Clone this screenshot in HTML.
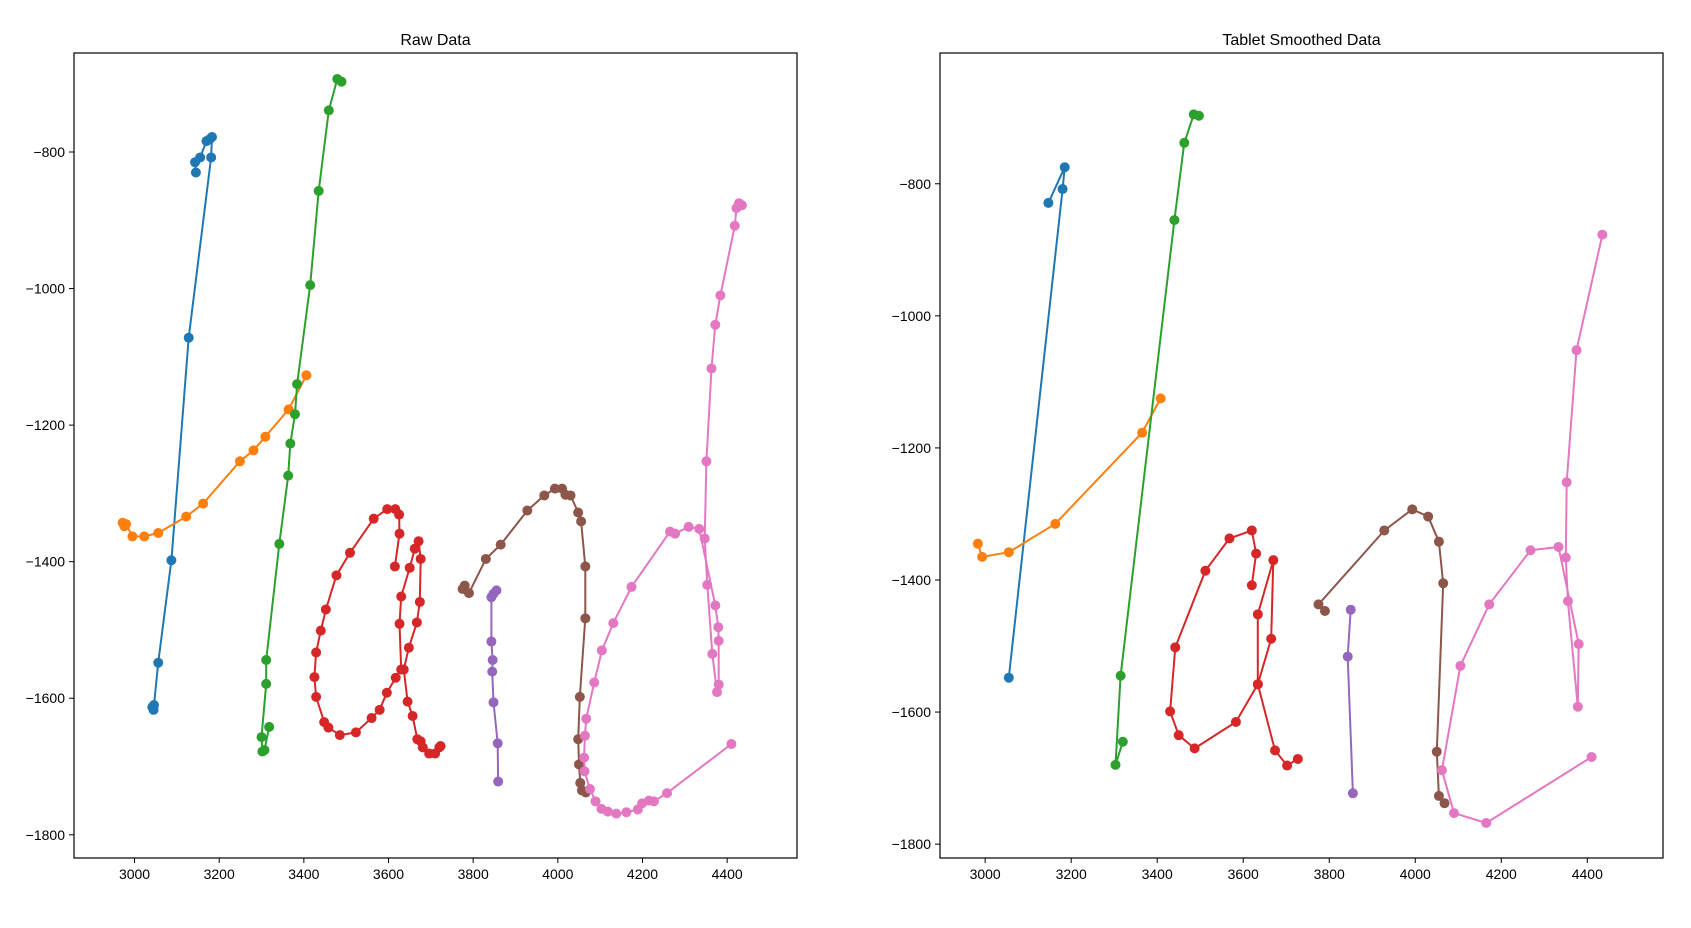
<!DOCTYPE html>
<html><head><meta charset="utf-8"><style>
html,body{margin:0;padding:0;background:#fff;}
svg{display:block;font-family:"Liberation Sans","DejaVu Sans",sans-serif;}
</style></head><body>
<svg id="fig" width="1691" height="928" viewBox="0 0 1691 928"></svg>
<script>
const colors=["#1f77b4","#ff7f0e","#2ca02c","#d62728","#9467bd","#8c564b","#e377c2"];
const strokeNames=["stroke-1","stroke-2","stroke-3","stroke-4","stroke-5","stroke-6","stroke-7"];
const xTicks=[3000,3200,3400,3600,3800,4000,4200,4400];
const yTicksRaw=[-800,-1000,-1200,-1400,-1600,-1800];
const yTicksSmooth=[-800,-1000,-1200,-1400,-1600,-1800];
const titles=["Raw Data","Tablet Smoothed Data"];
const rawX=[
[3042,3045,3046,3056,3087,3128,3181,3183,3178,3170,3155,3143,3145],
[2972,2976,2980,2995,3023,3056,3122,3162,3249,3281,3309,3364,3406],
[3318,3307,3302,3300,3311,3311,3342,3363,3368,3379,3384,3415,3435,3459,3479,3489],
[3615,3626,3625,3616,3597,3565,3509,3477,3452,3440,3429,3425,3429,3448,3458,3485,3523,3560,3579,3596,3617,3630,3626,3630,3650,3662,3671,3676,3674,3667,3648,3636,3645,3657,3668,3676,3681,3696,3710,3720,3723],
[3855,3848,3843,3843,3846,3845,3848,3858,3859],
[3775,3780,3790,3830,3865,3928,3968,3993,4010,4018,4030,4048,4055,4065,4065,4052,4048,4050,4053,4057,4066],
[4435,4428,4422,4418,4384,4372,4363,4351,4347,4353,4365,4376,4380,4380,4379,4372,4334,4309,4277,4265,4174,4131,4104,4086,4067,4064,4062,4063,4076,4089,4103,4118,4138,4162,4189,4199,4215,4227,4258,4410]];
const rawY=[
[-1613,-1617,-1610,-1548,-1398,-1072,-808,-778,-781,-784,-808,-815,-830],
[-1343,-1348,-1345,-1363,-1363,-1358,-1334,-1315,-1253,-1237,-1217,-1177,-1127],
[-1642,-1676,-1678,-1657,-1579,-1544,-1374,-1274,-1227,-1184,-1140,-995,-857,-739,-693,-697],
[-1407,-1359,-1331,-1323,-1323,-1337,-1387,-1420,-1470,-1501,-1533,-1569,-1598,-1635,-1643,-1654,-1650,-1629,-1617,-1592,-1570,-1558,-1491,-1451,-1409,-1381,-1370,-1396,-1459,-1489,-1526,-1558,-1605,-1626,-1660,-1663,-1672,-1681,-1681,-1672,-1670],
[-1442,-1447,-1452,-1517,-1544,-1561,-1606,-1666,-1722],
[-1440,-1435,-1446,-1396,-1375,-1325,-1303,-1293,-1293,-1302,-1303,-1328,-1341,-1407,-1483,-1598,-1660,-1697,-1724,-1735,-1738],
[-878,-875,-882,-908,-1010,-1053,-1117,-1253,-1366,-1434,-1535,-1591,-1580,-1516,-1496,-1464,-1352,-1349,-1359,-1356,-1437,-1490,-1530,-1577,-1630,-1655,-1687,-1707,-1733,-1751,-1762,-1766,-1769,-1767,-1763,-1754,-1750,-1751,-1739,-1667]];
const smX=[
[3055,3180,3185,3147],
[2983,2993,3055,3163,3365,3408],
[3320,3303,3315,3440,3463,3485,3497],
[3620,3630,3620,3568,3512,3442,3430,3450,3487,3583,3634,3634,3670,3665,3634,3674,3702,3727],
[3850,3843,3855],
[3790,3775,3928,3993,4030,4055,4065,4050,4055,4068],
[4435,4375,4352,4350,4355,4378,4380,4333,4268,4172,4105,4062,4090,4165,4410]];
const smY=[
[-1548,-808,-775,-829],
[-1345,-1365,-1358,-1315,-1177,-1125],
[-1645,-1680,-1545,-855,-738,-695,-697],
[-1408,-1360,-1325,-1337,-1386,-1502,-1599,-1635,-1655,-1615,-1558,-1452,-1370,-1489,-1558,-1658,-1681,-1671],
[-1445,-1516,-1723],
[-1447,-1437,-1325,-1293,-1304,-1342,-1405,-1660,-1727,-1738],
[-877,-1052,-1252,-1366,-1432,-1592,-1497,-1350,-1355,-1437,-1530,-1688,-1753,-1768,-1668]];

const NS="http://www.w3.org/2000/svg";
const svg=document.getElementById('fig');
function mk(tag,attrs,parent){const e=document.createElementNS(NS,tag);for(const k in attrs)e.setAttribute(k,attrs[k]);(parent||svg).appendChild(e);return e;}

const panels=[
 {x0:74,x1:797,y0:53,y1:858,xmin:2857,xmax:4565,ymin:-1834,ymax:-655,X:rawX,Y:rawY,yt:yTicksRaw,name:"raw-data-chart"},
 {x0:940,x1:1663,y0:53,y1:858,xmin:2895,xmax:4576,ymin:-1821,ymax:-602,X:smX,Y:smY,yt:yTicksSmooth,name:"smoothed-data-chart"}];

panels.forEach((p,pi)=>{
  const g=mk('g',{});
  
  
  const sx=v=>p.x0+(v-p.xmin)/(p.xmax-p.xmin)*(p.x1-p.x0);
  const sy=v=>p.y1-(v-p.ymin)/(p.ymax-p.ymin)*(p.y1-p.y0);
  const t=mk('text',{x:(p.x0+p.x1)/2,y:p.y0-8,'text-anchor':'middle','font-size':16,fill:'#000'},g);
  t.textContent=titles[pi];
  
  
  xTicks.forEach(v=>{
    const x=sx(v);
    const l=mk('line',{x1:x,x2:x,y1:p.y1,y2:p.y1+5,stroke:'#000','stroke-width':1},g);
    
    
    const tx=mk('text',{x:x,y:p.y1+21,'text-anchor':'middle','font-size':14,fill:'#000'},g);
    tx.textContent=v;
    
    
  });
  p.yt.forEach(v=>{
    const y=sy(v);
    const l=mk('line',{x1:p.x0-5,x2:p.x0,y1:y,y2:y,stroke:'#000','stroke-width':1},g);
    
    
    const ty=mk('text',{x:p.x0-9,y:y+5,'text-anchor':'end','font-size':14,fill:'#000'},g);
    ty.textContent='\u2212'+Math.abs(v);
    
    
  });
  p.X.forEach((xs,si)=>{
    const sg=mk('g',{},g);
    
    
    const pts=xs.map((v,i)=>sx(v).toFixed(1)+','+sy(p.Y[si][i]).toFixed(1)).join(' ');
    const pl=mk('polyline',{points:pts,fill:'none',stroke:colors[si],'stroke-width':2,'stroke-linejoin':'round'},sg);
    
    
    xs.forEach((v,i)=>{
      const c=mk('circle',{cx:sx(v),cy:sy(p.Y[si][i]),r:5,fill:colors[si]},sg);
      
      
    });
  });
  const r=mk('rect',{x:p.x0,y:p.y0,width:p.x1-p.x0,height:p.y1-p.y0,fill:'none',stroke:'#000','stroke-width':1.2},g);
  
  
});
</script>
</body></html>
